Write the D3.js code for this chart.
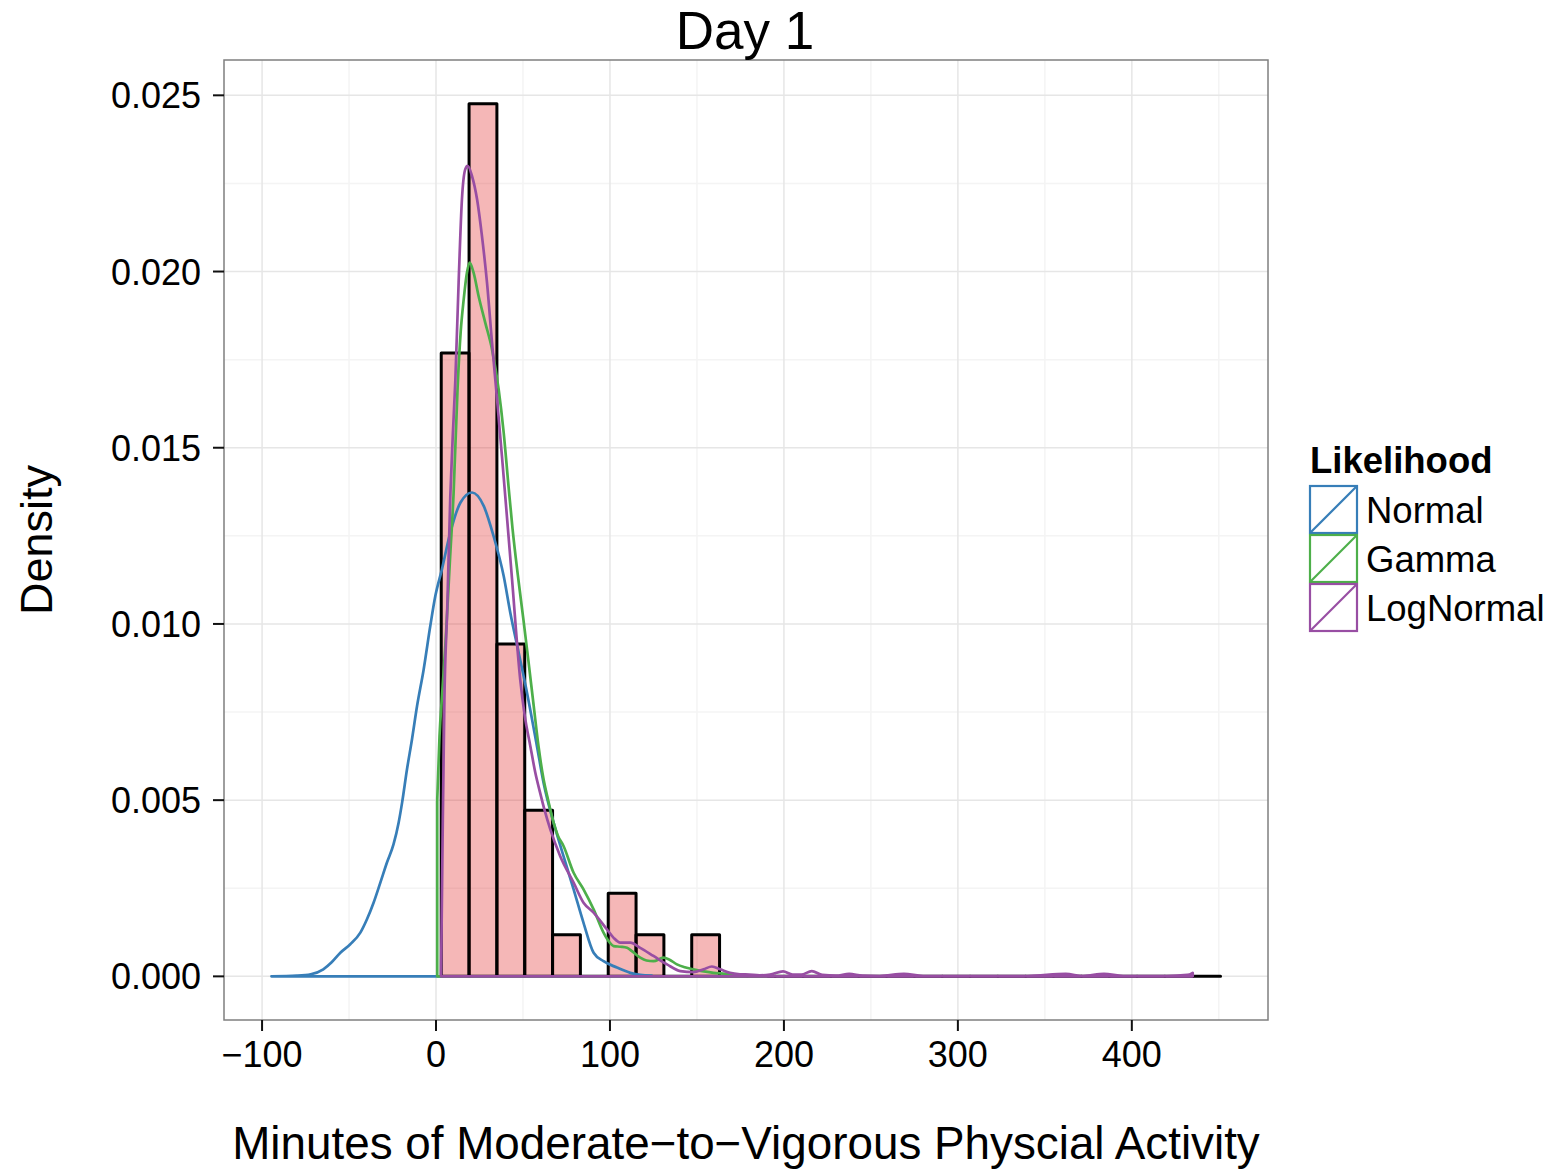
<!DOCTYPE html>
<html>
<head>
<meta charset="utf-8">
<script src="https://cdn.jsdelivr.net/npm/d3@7"></script>
<style>
  body { margin: 0; background: #fff; }
  text { font-family: "Liberation Sans", Arial, Helvetica, sans-serif; fill: #000; }
</style>
</head>
<body>
<svg id="chart" width="1554" height="1169"></svg>
<script>
// Histogram of minutes of MVPA (counts per 16-minute bin, first bin starting at 3)
const binStart = 3;
const binWidth = 16;
const binCounts = [15, 21, 8, 4, 1, 0, 2, 1, 0, 1, 0, 0, 0, 0,
                   0, 0, 0, 0, 0, 0, 0, 0, 0, 0, 0, 0, 0, 0];

// Density curves of the three fitted likelihoods: [minutes, density]
const normalCurve = [
  [-94.6, 0], [-80, 0.00002], [-72, 0.00006], [-64.8, 0.0002], [-60, 0.0004],
  [-55, 0.00067], [-49.3, 0.00091], [-43.5, 0.00124], [-39.7, 0.00162],
  [-35.9, 0.00209], [-32, 0.00266], [-28.2, 0.00323], [-24.4, 0.00375],
  [-21.5, 0.00436], [-19.5, 0.00493], [-16.7, 0.00587], [-13.8, 0.00673],
  [-10.9, 0.00767], [-7.1, 0.00871], [-3.3, 0.00994], [-0.4, 0.01079],
  [3.4, 0.01155], [8.2, 0.01259], [14, 0.01344], [20.7, 0.01373],
  [27.4, 0.01335], [33.1, 0.01249], [38.9, 0.01136], [42.7, 0.01032],
  [47.5, 0.00919], [52.3, 0.00805], [58, 0.00654], [62, 0.00545],
  [67.6, 0.00436], [73.3, 0.00341], [79.1, 0.00247], [84.8, 0.00152],
  [90.6, 0.00067], [96.3, 0.00043], [104, 0.00025], [111.7, 0.0001],
  [117.4, 0.00004], [124, 0.00002]
];

const gammaCurve = [
  [0.7, 0.0050], [2, 0.0068], [3.5, 0.0080], [5.5, 0.0095], [8, 0.0118],
  [10.1, 0.0137], [12.4, 0.0167], [14.2, 0.0183], [15.9, 0.0192],
  [17.8, 0.01997], [19.3, 0.02025], [21.6, 0.01997], [24.5, 0.0193],
  [28.3, 0.01855], [32.2, 0.01779], [36, 0.01666], [38.9, 0.01543],
  [41.7, 0.0139], [44, 0.0127], [47, 0.0114], [50.3, 0.0101], [53, 0.0090],
  [56.1, 0.0077], [59, 0.0065], [61.8, 0.0056], [64, 0.0051], [67.6, 0.00436],
  [70, 0.0040], [73.3, 0.0037], [79.1, 0.00294], [84.8, 0.00247],
  [90.6, 0.0019], [96.3, 0.00124], [100, 0.00095], [102.1, 0.00086],
  [106, 0.00084], [109.8, 0.00081], [113, 0.0007], [117.4, 0.00053],
  [121, 0.00045], [125, 0.00043], [130.8, 0.00053], [134, 0.00048],
  [138.5, 0.00034], [143, 0.00026], [148, 0.0002], [154, 0.00014],
  [159.5, 0.0001], [165, 0.00008], [171, 0.00006], [180, 0.00003], [190, 0.00001]
];

const logNormalCurve = [
  [2.9, 0], [3.8, 0.004], [4.8, 0.0078], [6.5, 0.0105], [8.2, 0.0136],
  [9.6, 0.0153], [11.1, 0.0169], [13, 0.01969], [14.9, 0.02205],
  [16.8, 0.0229], [18.2, 0.0230], [20.7, 0.02271], [23.6, 0.02205],
  [26.4, 0.02101], [29.3, 0.01969], [32.2, 0.01798], [35.1, 0.01637],
  [37.9, 0.01476], [39.8, 0.01363], [43.7, 0.01127], [48.4, 0.00843],
  [51, 0.0074], [54.2, 0.00654], [57, 0.0058], [59.9, 0.0052], [62.5, 0.0047],
  [65.7, 0.00417], [71.4, 0.00341], [79.1, 0.00266], [84.8, 0.00209],
  [90.6, 0.00181], [98.3, 0.00133], [102, 0.0011], [105.9, 0.00096],
  [111.7, 0.00096], [117.4, 0.00081], [125, 0.00058], [132.8, 0.00034],
  [140.4, 0.00015], [148, 0.00012], [153.8, 0.0002], [158.6, 0.00028],
  [163.4, 0.0002], [169, 0.0001], [174.7, 0.00006], [180, 0.00005],
  [186, 0.00003], [192, 0.00005], [199.5, 0.00014], [205, 0.00005],
  [210, 0.00005], [216, 0.00015], [222, 0.00004], [230, 0.00002],
  [237.5, 0.00007], [245, 0.00002], [255, 0.00001], [269, 0.00007],
  [280, 0.00001], [300, 0.00001], [340, 0.00001], [362, 0.00007],
  [372, 0.00001], [384, 0.00007], [395, 0.00001], [420, 0.00001],
  [432, 0.00004], [435, 0.0001]
];

const seriesNames = ["Normal", "Gamma", "LogNormal"];
const seriesColors = ["#377EB8", "#4DAF4A", "#984EA3"];
const xTickValues = [-100, 0, 100, 200, 300, 400];
const xTickLabels = ["\u2212100", "0", "100", "200", "300", "400"];
const yTickValues = [0, 0.005, 0.010, 0.015, 0.020, 0.025];
const yTickLabels = ["0.000", "0.005", "0.010", "0.015", "0.020", "0.025"];

// ---- layout ----
const panel = { left: 224, right: 1268, top: 60, bottom: 1020 };
const svg = d3.select("#chart");

// histogram bins -> density
const n = d3.sum(binCounts);
const bins = binCounts.map((c, i) => ({
  x0: binStart + i * binWidth,
  x1: binStart + (i + 1) * binWidth,
  density: c / (n * binWidth)
}));

const curves = [normalCurve, gammaCurve, logNormalCurve];

// scales with 5% expansion on both axes
const xMin = d3.min([bins[0].x0, ...curves.map(c => d3.min(c, d => d[0]))]);
const xMax = d3.max([bins[bins.length - 1].x1, ...curves.map(c => d3.max(c, d => d[0]))]);
const xPad = (xMax - xMin) * 0.05;
const yMax = d3.max([d3.max(bins, b => b.density), ...curves.map(c => d3.max(c, d => d[1]))]);
const yPad = yMax * 0.05;

const x = d3.scaleLinear().domain([xMin - xPad, xMax + xPad]).range([panel.left, panel.right]);
const y = d3.scaleLinear().domain([-yPad, yMax + yPad]).range([panel.bottom, panel.top]);

// ---- panel background and grid ----
const g = svg.append("g");
g.append("rect")
  .attr("x", panel.left).attr("y", panel.top)
  .attr("width", panel.right - panel.left).attr("height", panel.bottom - panel.top)
  .attr("fill", "#fff");

const xMinor = d3.range(-150, 500, 100).filter(v => v > x.domain()[0] && v < x.domain()[1]);
const yMinor = d3.range(-0.0025, 0.03, 0.005).filter(v => v > y.domain()[0] && v < y.domain()[1]);

g.selectAll(".gx-minor").data(xMinor).enter().append("line")
  .attr("x1", d => x(d)).attr("x2", d => x(d))
  .attr("y1", panel.top).attr("y2", panel.bottom)
  .attr("stroke", "#F4F4F4").attr("stroke-width", 1.5);
g.selectAll(".gy-minor").data(yMinor).enter().append("line")
  .attr("x1", panel.left).attr("x2", panel.right)
  .attr("y1", d => y(d)).attr("y2", d => y(d))
  .attr("stroke", "#F4F4F4").attr("stroke-width", 1.5);
g.selectAll(".gx-major").data(xTickValues).enter().append("line")
  .attr("x1", d => x(d)).attr("x2", d => x(d))
  .attr("y1", panel.top).attr("y2", panel.bottom)
  .attr("stroke", "#E6E6E6").attr("stroke-width", 1.5);
g.selectAll(".gy-major").data(yTickValues).enter().append("line")
  .attr("x1", panel.left).attr("x2", panel.right)
  .attr("y1", d => y(d)).attr("y2", d => y(d))
  .attr("stroke", "#E6E6E6").attr("stroke-width", 1.5);

// ---- histogram (paths so that empty bins still show as a line) ----
g.selectAll(".bar").data(bins).enter().append("path")
  .attr("d", b => {
    const x0 = x(b.x0), x1 = x(b.x1), y0 = y(0), y1 = y(b.density);
    return `M${x0},${y0}L${x0},${y1}L${x1},${y1}L${x1},${y0}Z`;
  })
  .attr("fill", "#E11E1E").attr("fill-opacity", 0.32)
  .attr("stroke", "#000").attr("stroke-width", 3)
  .attr("stroke-linejoin", "round");

// ---- density curves (outlined polygons closed along zero) ----
const area = d3.area()
  .x(d => x(d[0]))
  .y0(y(0))
  .y1(d => y(d[1]))
  .curve(d3.curveMonotoneX);

curves.forEach((c, i) => {
  g.append("path")
    .attr("d", area(c))
    .attr("fill", "none")
    .attr("stroke", seriesColors[i])
    .attr("stroke-width", 2.7)
    .attr("stroke-linejoin", "round");
});

// panel border
g.append("rect")
  .attr("x", panel.left).attr("y", panel.top)
  .attr("width", panel.right - panel.left).attr("height", panel.bottom - panel.top)
  .attr("fill", "none").attr("stroke", "#7F7F7F").attr("stroke-width", 1.5);

// ---- axes ----
const tickLen = 11;
g.selectAll(".xt").data(xTickValues).enter().append("line")
  .attr("x1", d => x(d)).attr("x2", d => x(d))
  .attr("y1", panel.bottom).attr("y2", panel.bottom + tickLen)
  .attr("stroke", "#111").attr("stroke-width", 2);
g.selectAll(".xl").data(xTickValues).enter().append("text")
  .attr("x", d => x(d)).attr("y", 1067)
  .attr("text-anchor", "middle").attr("font-size", 36)
  .text((d, i) => xTickLabels[i]);

g.selectAll(".yt").data(yTickValues).enter().append("line")
  .attr("x1", panel.left - tickLen).attr("x2", panel.left)
  .attr("y1", d => y(d)).attr("y2", d => y(d))
  .attr("stroke", "#111").attr("stroke-width", 2);
g.selectAll(".yl").data(yTickValues).enter().append("text")
  .attr("x", 201).attr("y", d => y(d) + 13)
  .attr("text-anchor", "end").attr("font-size", 36)
  .text((d, i) => yTickLabels[i]);

// titles
svg.append("text")
  .attr("x", 745).attr("y", 49)
  .attr("text-anchor", "middle").attr("font-size", 53)
  .text("Day 1");
svg.append("text")
  .attr("x", 746).attr("y", 1159)
  .attr("text-anchor", "middle").attr("font-size", 45.8)
  .text("Minutes of Moderate\u2212to\u2212Vigorous Physcial Activity");
svg.append("text")
  .attr("transform", "translate(52,540) rotate(-90)")
  .attr("text-anchor", "middle").attr("font-size", 45)
  .text("Density");

// ---- legend ----
const legend = svg.append("g");
legend.append("text")
  .attr("x", 1310).attr("y", 473)
  .attr("font-size", 36.5).attr("font-weight", "bold")
  .text("Likelihood");

const keySize = 49, keyX = 1309, keyY0 = 485;
seriesNames.forEach((name, i) => {
  const ky = keyY0 + i * keySize;
  legend.append("rect")
    .attr("x", keyX + 1).attr("y", ky + 1)
    .attr("width", keySize - 2).attr("height", keySize - 2)
    .attr("fill", "#fff").attr("stroke", seriesColors[i]).attr("stroke-width", 2.2);
  legend.append("line")
    .attr("x1", keyX + 1).attr("y1", ky + keySize - 1)
    .attr("x2", keyX + keySize - 1).attr("y2", ky + 1)
    .attr("stroke", seriesColors[i]).attr("stroke-width", 2.2);
  legend.append("text")
    .attr("x", 1366).attr("y", ky + keySize / 2 + 13)
    .attr("font-size", 36.5)
    .text(name);
});
</script>
</body>
</html>
